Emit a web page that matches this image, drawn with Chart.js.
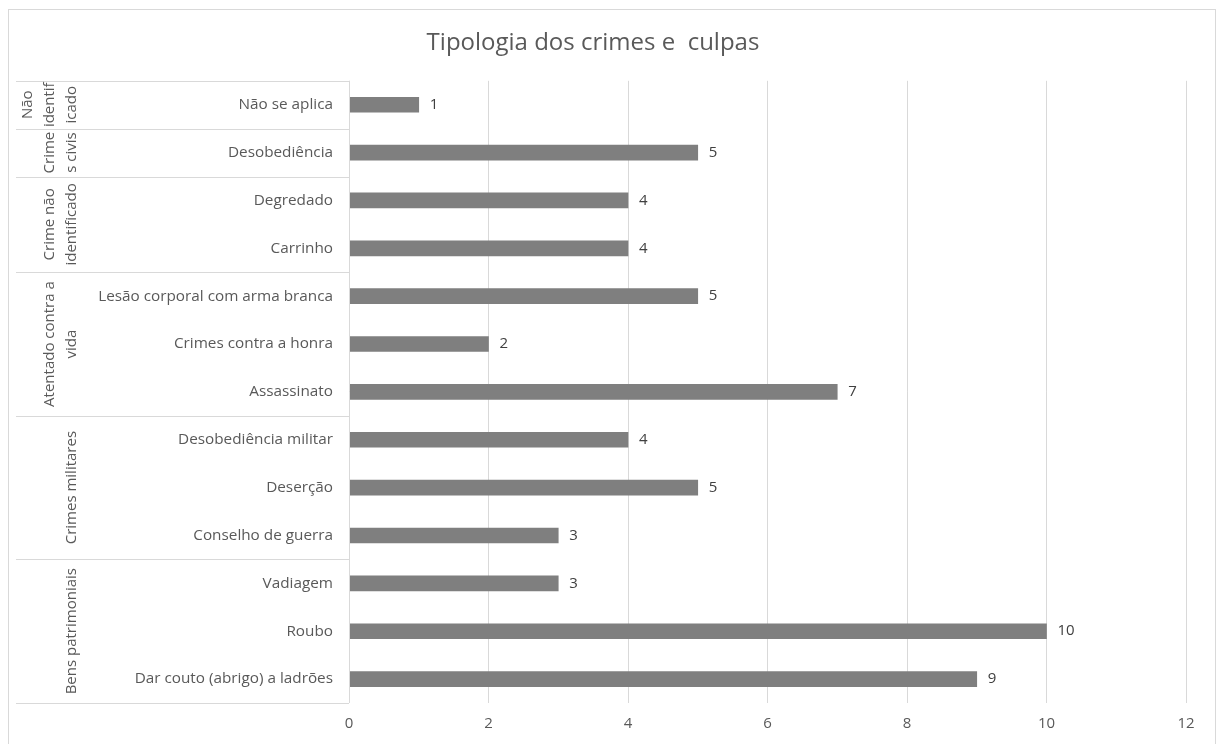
<!DOCTYPE html>
<html>
<head>
<meta charset="utf-8">
<script src="https://cdn.jsdelivr.net/npm/chart.js@4/dist/chart.umd.min.js"></script>
<style>
  html, body { margin: 0; padding: 0; background: #fff; }
  #wrap { width: 1217px; height: 744px; }
</style>
</head>
<body>
<div id="wrap"><canvas id="chart" width="1217" height="744"></canvas></div>
<script>
// categories top to bottom, as in the picture
const categories = [
  'Não se aplica',
  'Desobediência',
  'Degredado',
  'Carrinho',
  'Lesão corporal com arma branca',
  'Crimes contra a honra',
  'Assassinato',
  'Desobediência militar',
  'Deserção',
  'Conselho de guerra',
  'Vadiagem',
  'Roubo',
  'Dar couto (abrigo) a ladrões'
];
const values = [1, 5, 4, 4, 5, 2, 7, 4, 5, 3, 3, 10, 9];

// outer category groups (wrapped lines) and how many categories each holds
const groupLines = [
  ['Não', 'identif', 'icado'],
  ['Crime', 's civis'],
  ['Crime não', 'identificado'],
  ['Atentado contra a', 'vida'],
  ['Crimes militares'],
  ['Bens patrimoniais']
];
const groupSizes = [1, 1, 2, 3, 3, 3];

const FONT = '"Open Sans", Lato, sans-serif';
const TEXT = '#595959';
const LINE = '#d9d9d9';

// frame, group table and group labels
const groupPlugin = {
  id: 'groups',
  beforeDraw(chart) {
    const ctx = chart.ctx;
    ctx.save();
    ctx.strokeStyle = LINE;
    ctx.lineWidth = 1;
    ctx.strokeRect(8.5, 9.5, 1207, 740);
    ctx.restore();
  },
  afterDraw(chart) {
    const ctx = chart.ctx;
    const y = chart.scales.y;
    const area = chart.chartArea;
    const xLeft = 16, xRight = area.left;
    ctx.save();
    ctx.strokeStyle = LINE;
    ctx.lineWidth = 1;
    // right edge of the label table
    ctx.beginPath();
    ctx.moveTo(Math.round(xRight) + 0.5, area.top);
    ctx.lineTo(Math.round(xRight) + 0.5, area.bottom);
    ctx.stroke();

    let idx = 0;
    const edge = i => {
      if (i <= 0) return area.top;
      if (i >= categories.length) return area.bottom;
      return (y.getPixelForValue(i - 1) + y.getPixelForValue(i)) / 2;
    };
    ctx.font = '15px ' + FONT;
    ctx.fillStyle = TEXT;
    ctx.textAlign = 'center';
    ctx.textBaseline = 'middle';
    groupSizes.forEach((n, g) => {
      const top = edge(idx), bottom = edge(idx + n);
      ctx.beginPath();
      ctx.moveTo(xLeft, Math.round(top) + 0.5);
      ctx.lineTo(xRight, Math.round(top) + 0.5);
      ctx.stroke();
      const lines = groupLines[g];
      const cy = (top + bottom) / 2;
      lines.forEach((txt, k) => {
        const cx = 72 - (lines.length - 1 - k) * 22;
        ctx.save();
        ctx.translate(cx, cy);
        ctx.rotate(-Math.PI / 2);
        ctx.fillText(txt, 0, 0);
        ctx.restore();
      });
      idx += n;
    });
    ctx.beginPath();
    ctx.moveTo(xLeft, Math.round(area.bottom) + 0.5);
    ctx.lineTo(xRight, Math.round(area.bottom) + 0.5);
    ctx.stroke();
    ctx.restore();
  },
  afterDatasetsDraw(chart) {
    // value labels at bar ends
    const ctx = chart.ctx;
    const meta = chart.getDatasetMeta(0);
    ctx.save();
    ctx.font = '15px ' + FONT;
    ctx.fillStyle = '#404040';
    ctx.textAlign = 'left';
    ctx.textBaseline = 'middle';
    meta.data.forEach((bar, i) => {
      ctx.fillText(String(values[i]), bar.x + 11, bar.y);
    });
    ctx.restore();
  }
};

new Chart(document.getElementById('chart'), {
  type: 'bar',
  data: {
    labels: categories,
    datasets: [{
      data: values,
      backgroundColor: '#7f7f7f',
      borderWidth: 0,
      barThickness: 15
    }]
  },
  options: {
    indexAxis: 'y',
    responsive: false,
    animation: false,
    layout: { padding: { top: 0, right: 31, bottom: 0, left: 0 } },
    plugins: {
      legend: { display: false },
      tooltip: { enabled: false },
      title: {
        display: true,
        text: 'Tipologia dos crimes e  culpas',
        color: TEXT,
        font: { family: FONT, size: 24, weight: 'normal', lineHeight: 1.2 },
        padding: { top: 29, bottom: 23 }
      }
    },
    scales: {
      x: {
        min: 0,
        max: 12,
        ticks: { stepSize: 2, color: TEXT, padding: 12, font: { family: FONT, size: 15 } },
        grid: { color: LINE, drawTicks: false },
        border: { display: false },
        afterFit(scale) { scale.height = 41; }
      },
      y: {
        ticks: { color: TEXT, padding: 16, font: { family: FONT, size: 15.3 } },
        grid: { display: false, drawTicks: false },
        border: { display: false },
        afterFit(scale) { scale.width = 349; }
      }
    }
  },
  plugins: [groupPlugin]
});
</script>
</body>
</html>
